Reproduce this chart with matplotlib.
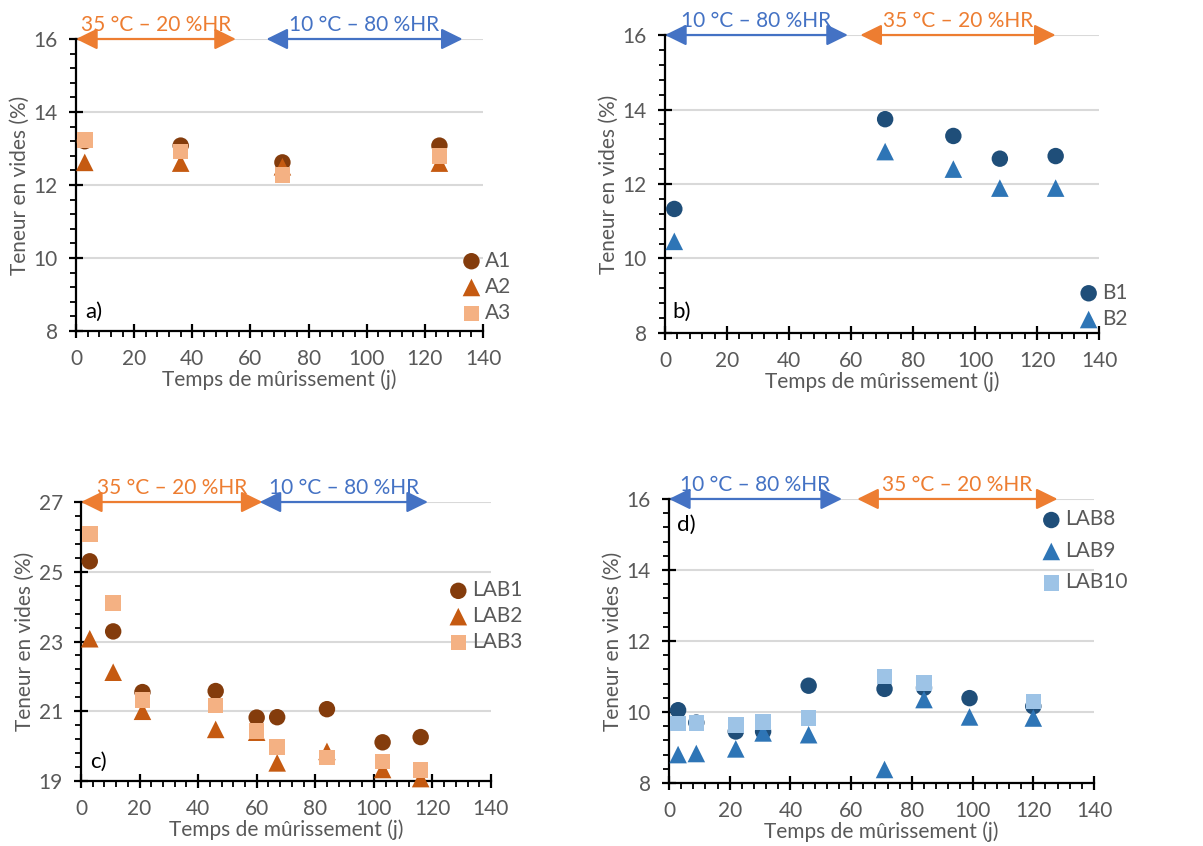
import numpy as np
import matplotlib.pyplot as plt
from matplotlib.patches import FancyArrowPatch
from matplotlib.ticker import MultipleLocator

plt.rcParams['font.family'] = ['Lato', 'DejaVu Sans']

# couleurs (palette Office)
brun_fonce = '#843C0C'
brun = '#C55A11'
peche = '#F4B183'
bleu_fonce = '#1F4E79'
bleu = '#2E75B6'
bleu_clair = '#9DC3E6'
orange_fl = '#ED7D31'
bleu_fl = '#4472C4'
gris = '#595959'

# a) A1 A2 A3
x_a = [3, 36, 71, 125]
A1 = [13.2, 13.08, 12.62, 13.08]
A2 = [12.62, 12.6, 12.5, 12.6]
A3 = [13.24, 12.92, 12.28, 12.8]

# b) B1 B2
x_b = [3, 71, 93, 108, 126]
B1 = [11.33, 13.74, 13.29, 12.68, 12.75]
B2 = [10.46, 12.87, 12.4, 11.89, 11.89]

# c) LAB1 LAB2 LAB3
x_c = [3, 11, 21, 46, 60, 67, 84, 103, 116]
LAB1 = [25.3, 23.29, 21.55, 21.58, 20.82, 20.83, 21.06, 20.11, 20.26]
LAB2 = [23.08, 22.12, 21.0, 20.48, 20.4, 19.52, 19.85, 19.33, 19.07]
LAB3 = [26.09, 24.1, 21.33, 21.17, 20.43, 19.97, 19.67, 19.56, 19.32]

# d) LAB8 LAB9 LAB10
x_d = [3, 9, 22, 31, 46, 71, 84, 99, 120]
LAB8 = [10.05, 9.7, 9.45, 9.45, 10.74, 10.65, 10.68, 10.39, 10.16]
LAB9 = [8.8, 8.83, 8.96, 9.41, 9.36, 8.38, 10.35, 9.86, 9.83]
x_d10 = [3, 9, 22, 31, 46, 71, 84, 120]
LAB10 = [9.67, 9.69, 9.64, 9.72, 9.83, 11.0, 10.82, 10.3]

txt_sec = '35 °C – 20 %HR'
txt_hum = '10 °C – 80 %HR'

fs = 15

fig = plt.figure(figsize=(12.03, 8.46), dpi=100)


def panneau(rect, ylim, series, fleches, lettre, pos_lettre, pos_leg, espace_leg):
    ax = fig.add_axes(rect)
    ax.set_xlim(0, 140)
    ax.set_ylim(*ylim)
    ax.xaxis.set_major_locator(MultipleLocator(20))
    ax.xaxis.set_minor_locator(MultipleLocator(4))
    ax.set_yticks(np.arange(ylim[0], ylim[1] + 0.1, 2))
    ax.set_yticks(np.arange(ylim[0], ylim[1] + 0.01, 0.4), minor=True)
    ax.grid(axis='y', which='major', color='#D9D9D9', lw=1.5, zorder=0)
    ax.set_axisbelow(True)
    for s in ['top', 'right']:
        ax.spines[s].set_visible(False)
    for s in ['left', 'bottom']:
        ax.spines[s].set_linewidth(1.6)
    ax.tick_params(which='major', direction='inout', length=10, width=1.6,
                   labelsize=fs, labelcolor=gris, pad=8)
    ax.tick_params(which='minor', direction='out', length=4, width=1.3)

    for x, y, m, c, s, lab in series:
        ax.scatter(x, y, marker=m, color=c, s=s, label=lab, clip_on=False,
                   edgecolors='none', zorder=3)

    for x0, x1, col, txt in fleches:
        arr = FancyArrowPatch((x0, ylim[1]), (x1, ylim[1]),
                              arrowstyle='<|-|>,head_length=0.65,head_width=0.32',
                              mutation_scale=20, color=col, lw=1.6,
                              shrinkA=0, shrinkB=0, clip_on=False, zorder=5)
        ax.add_patch(arr)
        ax.annotate(txt, ((x0 + x1) / 2, ylim[1]), xytext=(0, 3),
                    textcoords='offset points', ha='center', va='bottom',
                    color=col, fontsize=fs, annotation_clip=False)

    ax.text(pos_lettre[0], pos_lettre[1], lettre, transform=ax.transAxes,
            fontsize=16, color='black', va='center', ha='left')

    ax.legend(loc='center left', bbox_to_anchor=pos_leg, frameon=False,
              fontsize=fs, labelcolor=gris, handlelength=1.0,
              handletextpad=0.15, borderpad=0, borderaxespad=0,
              labelspacing=espace_leg, scatterpoints=1)

    ax.set_xlabel('Temps de mûrissement (j)', fontsize=fs, color=gris, labelpad=0)
    ax.set_ylabel('Teneur en vides (%)', fontsize=fs, color=gris, labelpad=3)
    return ax


panneau([0.0632, 0.6087, 0.3383, 0.3452], (8, 16),
        [(x_a, A1, 'o', brun_fonce, 140, 'A1'),
         (x_a, A2, '^', brun, 160, 'A2'),
         (x_a, A3, 's', peche, 125, 'A3')],
        [(0, 55, orange_fl, txt_sec), (65.5, 133, bleu_fl, txt_hum)],
        'a)', (0.022, 0.065), (0.946, 0.151), 0.3)

panneau([0.5528, 0.6064, 0.3608, 0.3522], (8, 16),
        [(x_b, B1, 'o', bleu_fonce, 140, 'B1'),
         (x_b, B2, '^', bleu, 160, 'B2')],
        [(0, 59, bleu_fl, txt_hum), (63, 126, orange_fl, txt_sec)],
        'b)', (0.018, 0.07), (0.952, 0.091), 0.3)

panneau([0.0673, 0.0768, 0.3408, 0.3298], (19, 27),
        [(x_c, LAB1, 'o', brun_fonce, 140, 'LAB1'),
         (x_c, LAB2, '^', brun, 160, 'LAB2'),
         (x_c, LAB3, 's', peche, 125, 'LAB3')],
        [(0, 62, orange_fl, txt_sec), (61, 118.5, bleu_fl, txt_hum)],
        'c)', (0.022, 0.068), (0.895, 0.591), 0.28)

panneau([0.5561, 0.0745, 0.3533, 0.3357], (8, 16),
        [(x_d, LAB8, 'o', bleu_fonce, 140, 'LAB8'),
         (x_d, LAB9, '^', bleu, 160, 'LAB9'),
         (x_d10, LAB10, 's', bleu_clair, 125, 'LAB10')],
        [(0, 57, bleu_fl, txt_hum), (62, 128, orange_fl, txt_sec)],
        'd)', (0.019, 0.908), (0.875, 0.817), 0.55)

plt.savefig('out.png', dpi=100)
